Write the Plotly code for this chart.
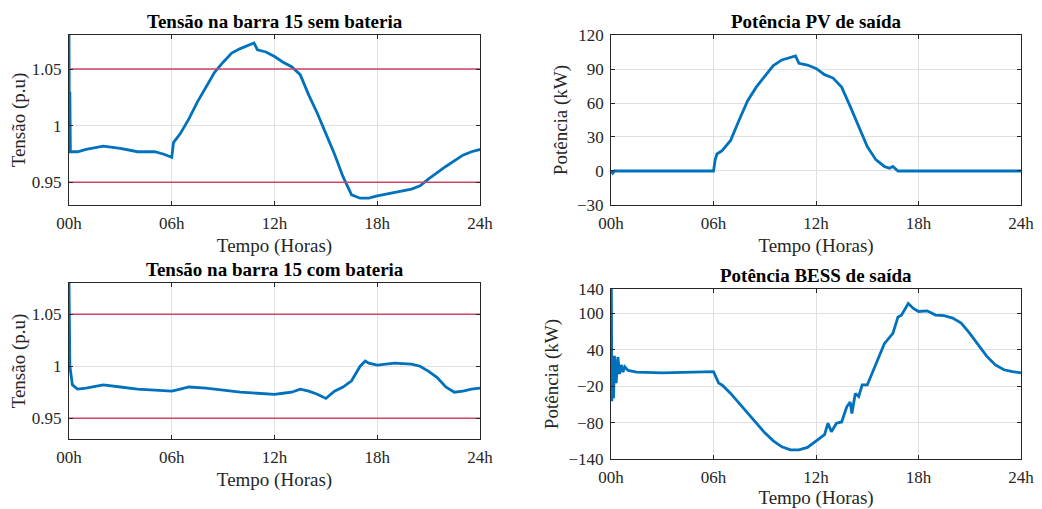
import plotly.graph_objects as go

# ---- data ----
hours_tick = [0, 6, 12, 18, 24]
hour_labels = ['00h', '06h', '12h', '18h', '24h']

# tensão na barra 15 sem bateria (p.u)
t_sem = [0, 0.02, 0.05, 0.08, 0.5, 1, 2, 3, 4, 5, 5.5, 6, 6.1, 6.5, 7, 7.5, 8, 8.5, 9, 9.5, 10,
         10.5, 10.8, 11, 11.5, 12, 12.5, 13, 13.5, 14, 14.5, 15, 15.5, 16, 16.5, 17, 17.5, 18,
         19, 20, 20.5, 21, 22, 23, 23.5, 24]
v_sem = [1.08, 1.00, 1.03, 0.977, 0.977, 0.979, 0.982, 0.980, 0.977, 0.977, 0.975, 0.972, 0.985,
         0.993, 1.006, 1.021, 1.034, 1.047, 1.056, 1.064, 1.068, 1.071, 1.073, 1.067, 1.065,
         1.061, 1.056, 1.052, 1.045, 1.027, 1.011, 0.993, 0.975, 0.955, 0.939, 0.936, 0.936,
         0.938, 0.941, 0.944, 0.947, 0.953, 0.964, 0.974, 0.977, 0.979]

# tensão na barra 15 com bateria (p.u)
t_com = [0, 0.02, 0.05, 0.2, 0.5, 1, 2, 3, 4, 5, 6, 6.5, 7, 8, 9, 10, 11, 12, 12.5, 13, 13.5,
         14, 14.5, 15, 15.5, 16, 16.5, 17, 17.3, 17.5, 18, 19, 20, 20.5, 21, 21.5, 22, 22.5,
         23, 23.5, 24]
v_com = [1.08, 1.04, 1.00, 0.982, 0.978, 0.979, 0.982, 0.980, 0.978, 0.977, 0.976, 0.978,
         0.980, 0.979, 0.977, 0.975, 0.974, 0.973, 0.974, 0.975, 0.978, 0.976, 0.973, 0.969,
         0.976, 0.980, 0.986, 1.000, 1.005, 1.003, 1.001, 1.003, 1.002, 1.000, 0.995, 0.989,
         0.980, 0.975, 0.976, 0.978, 0.979]

# potência PV de saída (kW)
t_pv = [0, 0.1, 0.2, 1, 3, 5, 6, 6.1, 6.2, 6.5, 7, 7.5, 8, 8.5, 9, 9.5, 10, 10.5, 10.8, 11,
        11.5, 12, 12.5, 13, 13.5, 14, 14.5, 15, 15.5, 16, 16.3, 16.5, 16.8, 18, 20, 24]
p_pv = [0, -2, 0, 0, 0, 0, 0, 10, 15, 18, 27, 45, 62, 74, 83, 93, 98, 100, 101.5, 95, 93.5,
        90.5, 85, 82, 74, 57, 39, 21.5, 10, 4, 2.5, 4, 0, 0, 0, 0]

# potência BESS de saída (kW)
t_bess = [0, 0.02, 0.05, 0.1, 0.15, 0.2, 0.3, 0.4, 0.5, 0.6, 0.7, 0.8, 1, 1.5, 3, 5, 6, 6.3,
          6.5, 7, 7.5, 8, 8.5, 9, 9.5, 10, 10.5, 11, 11.5, 12, 12.5, 12.7, 12.9, 13.2, 13.5,
          13.8, 14, 14.1, 14.3, 14.5, 14.7, 15, 15.5, 16, 16.5, 16.8, 17, 17.4, 17.7, 18,
          18.5, 19, 19.5, 20, 20.5, 21, 21.5, 22, 22.5, 23, 23.5, 24]
p_bess = [130, 140, -45, 30, -40, 30, -15, 28, 0, 15, 3, 12, 6, 3, 2, 3, 4, -15, -18, -32,
          -48, -65, -81, -97, -110, -120, -125, -125, -121, -111, -100, -81, -95, -81, -79,
          -54, -46, -65, -32, -37, -18, -18, 17, 50, 67, 94, 97, 116, 108, 103, 104, 97, 96,
          92, 84, 67, 48, 29, 15, 7, 4, 2]

limits = [0.95, 1.05]

blue = '#0072BD'
red = '#cc4466'
font_family = 'Liberation Serif'
tick_col = '#262626'

fig = go.Figure()

panels = [
    (t_sem, v_sem, 'x', 'y'),
    (t_pv, p_pv, 'x2', 'y2'),
    (t_com, v_com, 'x3', 'y3'),
    (t_bess, p_bess, 'x4', 'y4'),
]

for xs, ys, xa, ya in panels:
    fig.add_trace(go.Scatter(x=xs, y=ys, mode='lines', xaxis=xa, yaxis=ya,
                             line=dict(color=blue, width=2.8), showlegend=False))

# voltage limits
for xa, ya in [('x', 'y'), ('x3', 'y3')]:
    for lim in limits:
        fig.add_trace(go.Scatter(x=[0, 24], y=[lim, lim], mode='lines', xaxis=xa, yaxis=ya,
                                 line=dict(color=red, width=1.5), showlegend=False))

# page body has an 8px margin, so the figure is 1034x501 starting at (8, 8)
xdom_l = [0.0590, 0.4565]
xdom_r = [0.5832, 0.9797]
ydom_top = [0.6068, 0.9461]
ydom_bl = [0.1397, 0.4511]
ydom_br = [0.0998, 0.4391]

axis_title_font = dict(family=font_family, size=19, color=tick_col)

common_x = dict(range=[0, 24], tickvals=hours_tick, ticktext=hour_labels, automargin=False,
                showgrid=True, gridcolor='#e0e0e0', zeroline=False,
                showline=True, linecolor=tick_col, linewidth=1, mirror='allticks',
                ticks='inside', ticklen=4, tickcolor=tick_col, ticklabelstandoff=3,
                tickfont=dict(family=font_family, size=17, color=tick_col),
                title=dict(text='Tempo (Horas)', standoff=6, font=axis_title_font))
common_y = dict(showgrid=True, gridcolor='#e0e0e0', zeroline=False, automargin=False,
                showline=True, linecolor=tick_col, linewidth=1, mirror='allticks',
                ticks='inside', ticklen=4, tickcolor=tick_col, ticklabelstandoff=3,
                tickfont=dict(family=font_family, size=17, color=tick_col))

fig.update_layout(
    width=1034, height=501,
    margin=dict(l=0, r=0, t=0, b=0),
    font=dict(family=font_family, color=tick_col),
    paper_bgcolor='white', plot_bgcolor='white',
    xaxis=dict(domain=xdom_l, anchor='y', **common_x),
    yaxis=dict(domain=ydom_top, anchor='x', range=[0.93, 1.08],
               tickvals=[0.95, 1, 1.05], ticktext=['0.95', '1', '1.05'],
               title=dict(text='Tensão (p.u)', standoff=4, font=axis_title_font),
               **common_y),
    xaxis2=dict(domain=xdom_r, anchor='y2', **common_x),
    yaxis2=dict(domain=ydom_top, anchor='x2', range=[-30, 120],
                tickvals=[-30, 0, 30, 60, 90, 120],
                title=dict(text='Potência (kW)', standoff=4, font=axis_title_font),
                **common_y),
    xaxis3=dict(domain=xdom_l, anchor='y3', **common_x),
    yaxis3=dict(domain=ydom_bl, anchor='x3', range=[0.93, 1.08],
                tickvals=[0.95, 1, 1.05], ticktext=['0.95', '1', '1.05'],
                title=dict(text='Tensão (p.u)', standoff=4, font=axis_title_font),
                **common_y),
    xaxis4=dict(domain=xdom_r, anchor='y4', **common_x),
    yaxis4=dict(domain=ydom_br, anchor='x4', range=[-140, 140],
                tickvals=[-140, -80, -20, 40, 100, 140],
                title=dict(text='Potência (kW)', standoff=4, font=axis_title_font),
                **common_y),
)

titles = [
    ('Tensão na barra 15 sem bateria', sum(xdom_l) / 2, ydom_top[1]),
    ('Potência PV de saída', sum(xdom_r) / 2, ydom_top[1]),
    ('Tensão na barra 15 com bateria', sum(xdom_l) / 2, ydom_bl[1]),
    ('Potência BESS de saída', sum(xdom_r) / 2, ydom_br[1]),
]
for text, x, y in titles:
    fig.add_annotation(text='<b>' + text + '</b>', x=x, y=y, xref='paper', yref='paper',
                       xanchor='center', yanchor='bottom', yshift=1, showarrow=False,
                       font=dict(family=font_family, size=19, color='black'))

fig.write_html('out.html')
